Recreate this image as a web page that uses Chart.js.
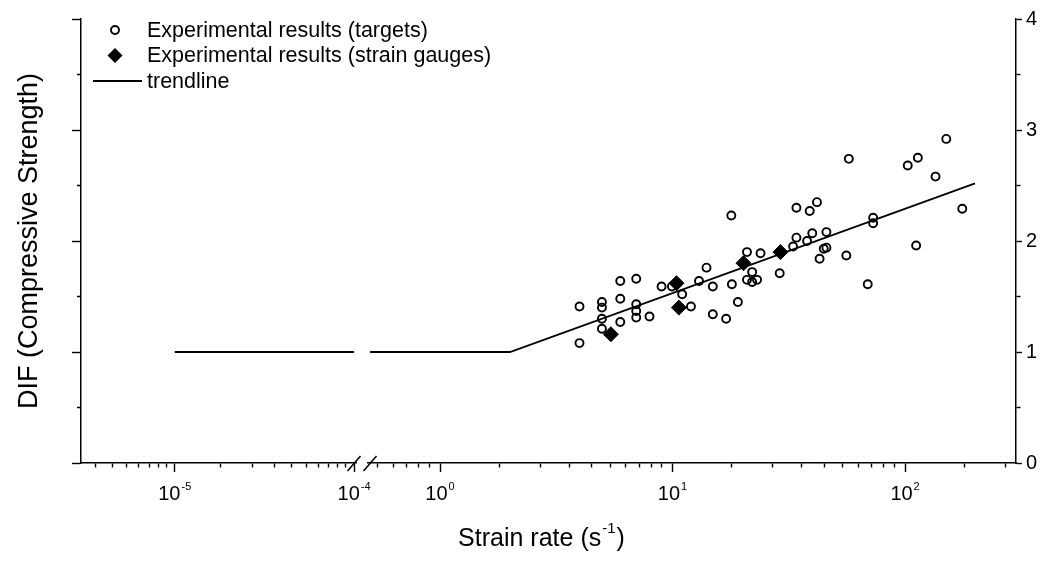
<!DOCTYPE html>
<html>
<head>
<meta charset="utf-8">
<script src="https://cdn.jsdelivr.net/npm/chart.js@4.4.1/dist/chart.umd.min.js"></script>
<style>
  html, body { margin: 0; padding: 0; background: #fff; }
</style>
</head>
<body>
<canvas id="difChart" width="1045" height="561"></canvas>
<script>
// strain rate (1/s) / DIF
const targetRate = [3.98, 3.98, 4.97, 4.97, 4.97, 4.97, 5.96, 5.96, 5.96, 6.98, 6.98, 6.98, 6.98, 7.96, 8.97,
  9.94, 11.0, 12.0, 13.0, 14.0, 14.9, 14.9, 17.0, 17.9, 18.0, 19.1, 20.9, 20.9, 22.0, 22.0, 23.1, 23.9,
  28.9, 33.0, 34.1, 34.1, 37.9, 38.9, 39.9, 41.8, 42.9, 44.7, 45.9, 45.9, 55.9, 57.3, 69.1, 72.9, 72.9,
  102.7, 111.6, 113.5, 135.2, 150.4, 176.2];
const targetDif = [1.41, 1.08, 1.45, 1.40, 1.30, 1.21, 1.64, 1.48, 1.27, 1.66, 1.43, 1.37, 1.31, 1.32, 1.59,
  1.59, 1.52, 1.41, 1.64, 1.76, 1.59, 1.34, 1.30, 2.23, 1.61, 1.45, 1.90, 1.65, 1.72, 1.63, 1.65, 1.89,
  1.71, 1.95, 2.30, 2.03, 2.00, 2.27, 2.07, 2.35, 1.84, 1.93, 1.94, 2.08, 1.87, 2.74, 1.61, 2.21, 2.16,
  2.68, 1.96, 2.75, 2.58, 2.92, 2.29];

const gaugeRate = [5.43, 10.4, 10.65, 20.2, 29.1];
const gaugeDif = [1.16, 1.62, 1.40, 1.80, 1.90];

// trendline (null = hidden inside the axis break)
const trendRate = [1e-5, 1e-4, 1e-2, 0.5, 2, 200];
const trendDif = [1, 1, null, 1, 1, 2.52];

// axis ticks
const xTickExps = [-5, -4, 0, 1, 2];
const xMinorSteps = [1.8, 2.7, 3.6, 4.5, 5.4, 6.3, 7.2, 8.1, 9.0];
const yTicks = [0, 1, 2, 3, 4];

const legendLabels = [
  "Experimental results (targets)",
  "Experimental results (strain gauges)",
  "trendline",
];

const FONT = "'Liberation Sans', Arial, sans-serif";
Chart.defaults.font.family = FONT;
Chart.defaults.color = "#000";

// log axis with a break between two decade ranges
class BrokenLogScale extends Chart.Scale {
  static id = "brokenLog";
  static defaults = {};

  determineDataLimits() {
    this.min = this.options.min;
    this.max = this.options.max;
  }

  inRange(v) {
    const o = this.options;
    return (v >= o.min && v <= o.breakFrom) || (v >= o.breakTo && v <= o.max);
  }

  buildTicks() {
    const ticks = [];
    xTickExps.forEach((e) => ticks.push({ value: Math.pow(10, e), major: true }));
    for (let n = -7; n <= 3; n++) {
      xMinorSteps.forEach((m) => {
        const v = m * Math.pow(10, n);
        if (this.inRange(v)) ticks.push({ value: v, major: false });
      });
    }
    ticks.sort((a, b) => a.value - b.value);
    return ticks;
  }

  getLabelForValue(v) {
    return String(v);
  }

  frac(v) {
    const o = this.options;
    const lv = Math.log10(v);
    const a0 = Math.log10(o.min), a1 = Math.log10(o.breakFrom);
    const b0 = Math.log10(o.breakTo), b1 = Math.log10(o.max);
    const fl = o.leftShare, fg = o.gapShare;
    if (lv <= a1) return ((lv - a0) / (a1 - a0)) * fl;
    if (lv < b0) return fl + ((lv - a1) / (b0 - a1)) * fg;
    return fl + fg + ((lv - b0) / (b1 - b0)) * (1 - fl - fg);
  }

  getPixelForValue(v) {
    if (v === null || v === undefined || !(v > 0)) return NaN;
    return this.left + this.frac(v) * this.width;
  }

  getValueForPixel(p) {
    const o = this.options;
    const f = (p - this.left) / this.width;
    const a0 = Math.log10(o.min), a1 = Math.log10(o.breakFrom);
    const b0 = Math.log10(o.breakTo), b1 = Math.log10(o.max);
    const fl = o.leftShare, fg = o.gapShare;
    let lv;
    if (f <= fl) lv = a0 + (f / fl) * (a1 - a0);
    else if (f < fl + fg) lv = a1 + ((f - fl) / fg) * (b0 - a1);
    else lv = b0 + ((f - fl - fg) / (1 - fl - fg)) * (b1 - b0);
    return Math.pow(10, lv);
  }
}
Chart.register(BrokenLogScale);

const isWhole = (v) => Math.abs(v - Math.round(v)) < 1e-6 && yTicks.includes(Math.round(v));

// legend in the upper left corner of the plot
const cornerLegend = {
  id: "cornerLegend",
  afterDatasetsDraw(chart) {
    const { ctx, chartArea } = chart;
    const mx = chartArea.left + 34;
    const tx = chartArea.left + 66;
    ctx.save();
    ctx.font = "21.5px " + FONT;
    ctx.textBaseline = "middle";
    ctx.fillStyle = "#000";
    ctx.strokeStyle = "#000";
    legendLabels.forEach((label, i) => {
      const y = chartArea.top + 11 + i * 25.5;
      ctx.lineWidth = 1.9;
      if (i === 0) {
        ctx.beginPath();
        ctx.arc(mx, y, 4, 0, Math.PI * 2);
        ctx.stroke();
      } else if (i === 1) {
        ctx.beginPath();
        ctx.moveTo(mx, y - 7.5);
        ctx.lineTo(mx + 7.5, y);
        ctx.lineTo(mx, y + 7.5);
        ctx.lineTo(mx - 7.5, y);
        ctx.closePath();
        ctx.fill();
      } else {
        ctx.beginPath();
        ctx.moveTo(chartArea.left + 12, y);
        ctx.lineTo(chartArea.left + 61, y);
        ctx.stroke();
      }
      ctx.fillText(label, tx, y + 1);
    });
    ctx.restore();
  },
};

// x tick labels with superscripts, axis title and break marks
const xAxisText = {
  id: "xAxisText",
  afterDraw(chart) {
    const { ctx, scales, chartArea } = chart;
    const x = scales.x;
    const base = x.top;
    ctx.save();
    ctx.fillStyle = "#000";
    ctx.textBaseline = "alphabetic";
    ctx.textAlign = "left";

    xTickExps.forEach((e) => {
      const px = x.getPixelForValue(Math.pow(10, e));
      const sup = String(e);
      ctx.font = "20px " + FONT;
      const w1 = ctx.measureText("10").width;
      ctx.font = "11px " + FONT;
      const w2 = ctx.measureText(sup).width;
      const left = px - (w1 + w2 + 1) / 2;
      ctx.font = "20px " + FONT;
      ctx.fillText("10", left, base + 37);
      ctx.font = "11px " + FONT;
      ctx.fillText(sup, left + w1 + 1, base + 27);
    });

    // title: Strain rate (s^-1)
    const t1 = "Strain rate (s", t2 = "-1", t3 = ")";
    ctx.font = "25px " + FONT;
    const a = ctx.measureText(t1).width;
    const c = ctx.measureText(t3).width;
    ctx.font = "15px " + FONT;
    const b = ctx.measureText(t2).width;
    const cx = (chartArea.left + chartArea.right) / 2 - 7;
    const sx = cx - (a + b + c + 2) / 2;
    ctx.font = "25px " + FONT;
    ctx.fillText(t1, sx, base + 83);
    ctx.font = "15px " + FONT;
    ctx.fillText(t2, sx + a + 1, base + 70);
    ctx.font = "25px " + FONT;
    ctx.fillText(t3, sx + a + b + 2, base + 83);

    // axis break marks
    const o = x.options;
    const p1 = x.getPixelForValue(o.breakFrom);
    const p2 = x.getPixelForValue(o.breakTo);
    ctx.fillStyle = "#fff";
    ctx.fillRect(p1 + 3, base - 3, p2 - p1 - 6, 6);
    ctx.strokeStyle = "#000";
    ctx.lineWidth = 1.6;
    [p1, p2].forEach((p) => {
      ctx.beginPath();
      ctx.moveTo(p - 6.5, base + 8);
      ctx.lineTo(p + 6.5, base - 7);
      ctx.stroke();
    });
    ctx.restore();
  },
};

const ctx = document.getElementById("difChart").getContext("2d");

new Chart(ctx, {
  type: "scatter",
  data: {
    datasets: [
      {
        label: legendLabels[1],
        data: gaugeRate.map((r, i) => ({ x: r, y: gaugeDif[i] })),
        pointStyle: "rectRot",
        pointRadius: 7.5,
        backgroundColor: "#000",
        borderColor: "#000",
        borderWidth: 1,
      },
      {
        label: legendLabels[2],
        data: trendRate.map((r, i) => ({ x: r, y: trendDif[i] })),
        showLine: true,
        spanGaps: false,
        pointRadius: 0,
        borderColor: "#000",
        borderWidth: 1.8,
        fill: false,
      },
      {
        label: legendLabels[0],
        data: targetRate.map((r, i) => ({ x: r, y: targetDif[i] })),
        pointStyle: "circle",
        pointRadius: 4,
        backgroundColor: "rgba(0,0,0,0)",
        borderColor: "#000",
        borderWidth: 1.9,
      },
    ],
  },
  options: {
    responsive: false,
    animation: false,
    devicePixelRatio: 1,
    events: [],
    layout: { padding: { top: 19, left: 0, right: 0, bottom: 0 } },
    plugins: {
      legend: { display: false },
      tooltip: { enabled: false },
    },
    scales: {
      x: {
        type: "brokenLog",
        position: "bottom",
        min: 3e-6,
        max: 300,
        breakFrom: 1e-4,
        breakTo: 0.5,
        leftShare: 0.292,
        gapShare: 0.0171,
        ticks: { display: false },
        grid: {
          drawOnChartArea: false,
          tickLength: 9,
          tickColor: "#000",
          tickWidth: 1.4,
          tickBorderDash: (c) => (c.tick && c.tick.major ? [] : [4, 30]),
        },
        border: { color: "#000", width: 1.5 },
        afterFit: (s) => { s.height = 98; },
      },
      y: {
        position: "left",
        min: 0,
        max: 4,
        ticks: { stepSize: 0.5, display: false },
        grid: {
          drawOnChartArea: false,
          tickLength: 9,
          tickColor: "#000",
          tickWidth: 1.4,
          tickBorderDash: (c) => (c.tick && isWhole(c.tick.value) ? [] : [0, 5, 4, 30]),
        },
        border: { color: "#000", width: 1.5 },
        title: {
          display: true,
          text: "DIF (Compressive Strength)",
          font: { size: 27 },
          color: "#000",
          padding: { top: 13, bottom: 0 },
        },
        afterFit: (s) => { s.width = 81; },
      },
      yRight: {
        position: "right",
        display: true,
        min: 0,
        max: 4,
        ticks: {
          stepSize: 0.5,
          color: "#000",
          font: { size: 20 },
          padding: 4,
          callback: (v) => (isWhole(v) ? String(Math.round(v)) : ""),
        },
        grid: {
          drawOnChartArea: false,
          tickLength: 6,
          tickColor: "#000",
          tickWidth: 1.4,
          tickBorderDash: (c) => (c.tick && isWhole(c.tick.value) ? [] : [4, 30]),
        },
        border: { color: "#000", width: 1.5 },
        afterFit: (s) => { s.width = 29; },
      },
    },
  },
  plugins: [cornerLegend, xAxisText],
});
</script>
</body>
</html>
